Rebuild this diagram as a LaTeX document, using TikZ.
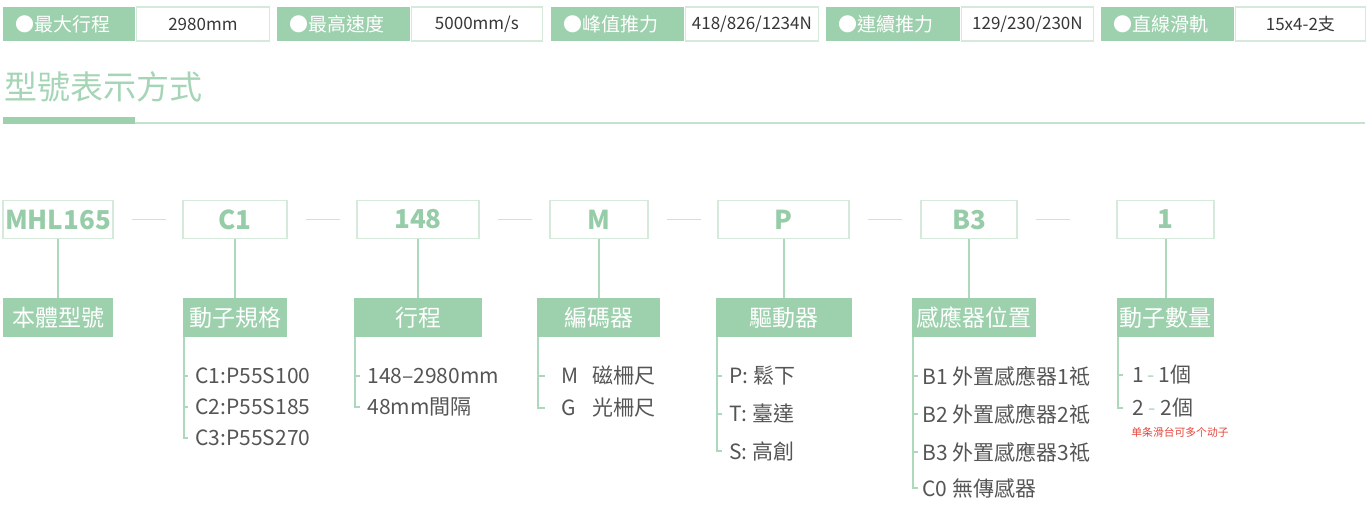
\documentclass[tikz,border=0pt]{standalone}
\usepackage{fontspec}
\setmainfont{Noto Sans CJK TC}
\usetikzlibrary{calc}
\definecolor{gr}{RGB}{157,208,173}
\definecolor{grtext}{RGB}{150,205,168}
\definecolor{grtitle}{RGB}{165,213,182}
\definecolor{boxline}{RGB}{214,234,220}
\definecolor{dashc}{RGB}{205,228,212}
\definecolor{linec}{RGB}{172,216,187}
\definecolor{itemc}{RGB}{85,85,85}
\definecolor{valc}{RGB}{55,55,55}
\definecolor{redc}{RGB}{230,70,60}
\begin{document}
\begin{tikzpicture}[x=0.5pt,y=-0.5pt,
  badgeg/.style={fill=gr, minimum height=17pt, inner sep=0pt, text=white, font=\fontsize{9.5}{10}\selectfont, anchor=west},
  badgew/.style={draw=boxline, line width=0.6pt, fill=white, minimum height=17pt, inner sep=0pt, text=valc, font=\fontsize{8.5}{9}\selectfont, anchor=west},
  codebox/.style={draw=boxline, line width=0.8pt, minimum height=19pt, inner sep=0pt, text=grtext, font=\bfseries\fontsize{13}{13}\selectfont},
  lblbox/.style={fill=gr, minimum height=19.5pt, inner sep=0pt, text=white, font=\fontsize{11.5}{12}\selectfont},
  item/.style={anchor=west, inner sep=0pt, text=itemc, font=\fontsize{10.5}{11}\selectfont},
  conn/.style={draw=linec, line width=1pt},
  dashline/.style={draw=dashc, line width=0.8pt},
  branch/.style={draw=linec, line width=0.9pt}]
\useasboundingbox (0,0) rectangle (1370,527);
% badges
\foreach \gx/\gw/\ww/\lab/\val/\nm in {
  3/132/133/最大行程/2980mm/a,
  277/133/131/最高速度/5000mm\slash s/b,
  551/133/133/峰值推力/418\slash 826\slash 1234N/c,
  826/134/132/連續推力/129\slash 230\slash 230N/d,
  1101/133/130/直線滑軌/15x4-2支/e}{
  \node[badgeg, minimum width=\gw*0.5pt] (bg\nm) at (\gx,24) {};
  \node[anchor=west, inner sep=0pt, text=white, font=\fontsize{9.5}{10}\selectfont] (bt\nm) at (\gx+12,24) {●\lab};
  \node[badgew, minimum width=\ww*0.5pt] (bw\nm) at (bg\nm.east) {\val};
}
% title
\node[anchor=west, inner sep=0pt, text=grtitle, font=\fontsize{16.5}{17}\selectfont] (title) at (4,87) {型號表示方式};
\fill[gr] (3,117) rectangle (135,124);
\fill[boxline!70!gr] (135,121.5) rectangle (1365,124);
% code boxes
\node[codebox, minimum width=55pt] (k1) at (58,219.5) {MHL165};
\node[codebox, minimum width=52pt] (k2) at (235,219.5) {C1};
\node[codebox, minimum width=61pt] (k3) at (418,219.5) {148};
\node[codebox, minimum width=49pt] (k4) at (599,219.5) {M};
\node[codebox, minimum width=65.5pt] (k5) at (783.5,219.5) {P};
\node[codebox, minimum width=48pt] (k6) at (969,219.5) {B3};
\node[codebox, minimum width=48.5pt] (k7) at (1165.5,219.5) {1};
% dashes after code boxes
\foreach \a in {k1,k2,k3,k4,k5,k6}{
  \draw[dashline] ($(\a.east)+(18,0)$) -- ($(\a.east)+(52,0)$);
}
% label boxes
\node[lblbox, minimum width=55pt] (l1) at (58,317.5) {本體型號};
\node[lblbox, minimum width=52pt] (l2) at (235,317.5) {動子規格};
\node[lblbox, minimum width=64pt] (l3) at (418,317.5) {行程};
\node[lblbox, minimum width=61.5pt] (l4) at (598.5,317.5) {編碼器};
\node[lblbox, minimum width=68pt] (l5) at (784,317.5) {驅動器};
\node[lblbox, minimum width=62pt] (l6) at (974,317.5) {感應器位置};
\node[lblbox, minimum width=48.5pt] (l7) at (1165.5,317.5) {動子數量};
% vertical connectors
\foreach \i in {1,...,7}{
  \draw[conn] (k\i.south) -- (k\i.south |- l\i.north);
}
% items
\node[item] (c2a) at (195,376) {C1:P55S100};
\node[item] (c2b) at (195,407) {C2:P55S185};
\node[item] (c2c) at (195,438) {C3:P55S270};
\node[item] (c3a) at (367,376) {148–2980mm};
\node[item] (c3b) at (367,407) {48mm間隔};
\node[item] (c4a) at (561,376) {\makebox[15.5pt][l]{M}磁柵尺};
\node[item] (c4b) at (561,408) {\makebox[15.5pt][l]{G}光柵尺};
\node[item] (c5a) at (729,376) {P: 鬆下};
\node[item] (c5b) at (729,414) {T: 臺達};
\node[item] (c5c) at (729,451) {S: 高創};
\node[item] (c6a) at (922,376) {B1 外置感應器1祗};
\node[item] (c6b) at (922,414) {B2 外置感應器2祗};
\node[item] (c6c) at (922,452) {B3 外置感應器3祗};
\node[item] (c6d) at (922,488) {C0 無傳感器};
\node[item] (c7a) at (1132,375) {1\,{\color{linec}-}\,1個};
\node[item] (c7b) at (1132,408) {2 {\color{linec}-} 2個};
\node[anchor=west, inner sep=0pt, text=redc, font=\fontsize{5.4}{6}\selectfont] (note) at (1131,432) {单条滑台可多个动子};
% branches
\foreach \l/\last/\others/\ts in {
  l2/c2c/{c2a,c2b}/7,
  l3/c3b/{c3a}/7,
  l4/c4b/{c4a}/16,
  l5/c5c/{c5a,c5b}/7,
  l6/c6d/{c6a,c6b,c6c}/4,
  l7/c7b/{c7a}/9}{
  \coordinate (x\l) at ($(\l.south west)+(1,0)$);
  \draw[branch] (x\l) |- ($(\last.west)+(-\ts,0)$);
  \foreach \o in \others {
    \draw[branch] (x\l |- \o.west) -- ($(\o.west)+(-\ts,0)$);
  }
}
\end{tikzpicture}
\end{document}
